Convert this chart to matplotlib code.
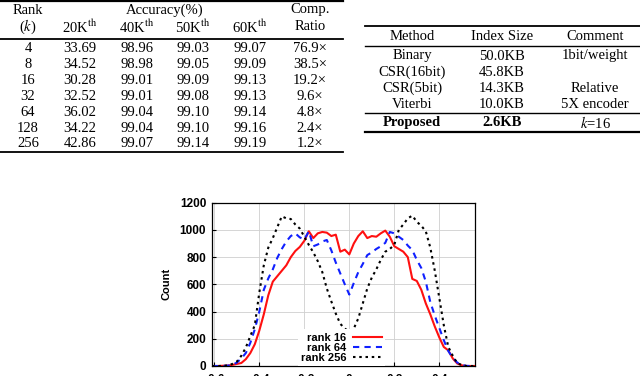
import matplotlib

matplotlib.use("Agg")
import matplotlib.pyplot as plt
from matplotlib.lines import Line2D

W, H = 640, 376

# ---- table 1: accuracy vs rank
ranks = ["4", "8", "16", "32", "64", "128", "256"]
acc_20k = [33.69, 34.52, 30.28, 32.52, 36.02, 34.22, 42.86]
acc_40k = [98.96, 98.98, 99.01, 99.01, 99.04, 99.04, 99.07]
acc_50k = [99.03, 99.05, 99.09, 99.08, 99.10, 99.10, 99.14]
acc_60k = [99.07, 99.09, 99.13, 99.13, 99.14, 99.16, 99.19]
comp_ratio = [76.9, 38.5, 19.2, 9.6, 4.8, 2.4, 1.2]

# ---- table 2: index size
methods = ["Binary", "CSR(16bit)", "CSR(5bit)", "Viterbi", "Proposed"]
index_size = ["50.0KB", "45.8KB", "14.3KB", "10.0KB", "2.6KB"]
comments = ["1bit/weight", "", "Relative", "5X encoder", "$k$=16"]

# ---- histogram of values
bins = [-0.61, -0.60, -0.58, -0.56, -0.54, -0.52, -0.50, -0.48, -0.46, -0.44,
        -0.42, -0.40, -0.38, -0.36, -0.34, -0.32, -0.30, -0.28, -0.26, -0.24,
        -0.22, -0.20, -0.18, -0.16, -0.14, -0.12, -0.10, -0.08, -0.06, -0.04,
        -0.02, 0.00, 0.02, 0.04, 0.06, 0.08, 0.10, 0.12, 0.14, 0.16,
        0.18, 0.20, 0.22, 0.24, 0.26, 0.28, 0.30, 0.32, 0.34, 0.36,
        0.38, 0.40, 0.42, 0.44, 0.46, 0.48, 0.50, 0.52, 0.54, 0.555]
count_r16 = [0, 0, 0, 2, 3, 8, 15, 22, 50, 95,
             160, 260, 380, 520, 620, 660, 700, 740, 800, 845,
             875, 920, 990, 940, 975, 985, 980, 955, 965, 840,
             855, 820, 900, 955, 990, 940, 955, 950, 975, 995,
             950, 880, 860, 840, 800, 640, 625, 560, 460, 380,
             290, 210, 140, 115, 55, 18, 5, 0, 0, 0]
count_r64 = [0, 0, 0, 0, 3, 8, 25, 55, 95, 170,
             270, 400, 560, 644, 710, 795, 860, 915, 955, 975,
             945, 930, 990, 880, 893, 915, 926, 850, 760, 680,
             600, 525, 610, 690, 750, 815, 835, 860, 880, 905,
             985, 975, 950, 926, 885, 852, 780, 720, 620, 470,
             370, 280, 190, 110, 60, 25, 8, 1, 0, 0]
count_r256 = [0, 0, 0, 2, 4, 15, 32, 75, 135, 220,
              300, 540, 740, 870, 940, 1020, 1100, 1085, 1080, 1040,
              1010, 950, 890, 835, 770, 690, 570, 475, 385, 310,
              275, 252, 275, 350, 460, 570, 650, 710, 780, 840,
              860, 890, 1000, 1040, 1085, 1105, 1060, 1030, 990, 870,
              700, 500, 300, 140, 75, 20, 8, 0, 0, 0]
x_ticks = [-0.6, -0.4, -0.2, 0.0, 0.2, 0.4]
x_ticklabels = ["-0.6", "-0.4", "-0.2", "0", "0.2", "0.4"]
y_ticks = [0, 200, 400, 600, 800, 1000, 1200]

plt.rcParams["mathtext.fontset"] = "stix"

fig = plt.figure(figsize=(W / 100, H / 100), dpi=100)

SERIF = "Liberation Serif"
FS = 10.5


def put(x, y, s, ha="center", **kw):
    fig.text(x / W, 1 - y / H, s, ha=ha, va="center", family=SERIF, fontsize=FS, **kw)


def rule(x0, x1, y, lw=1.0):
    fig.add_artist(Line2D([x0 / W, x1 / W], [1 - y / H] * 2, color="black", lw=lw))


# left table
cols = [28, 80, 137, 193, 250, 310]
rule(0, 343, 1, lw=1.6)
put(cols[0], 10, "Rank")
put((cols[1] + cols[4]) / 2, 10, "Accuracy(%)")
put(cols[5], 10, "Comp.")
put(cols[0], 27, "($k$)")
for c, lab in zip(cols[1:5], ["20K", "40K", "50K", "60K"]):
    put(c, 27, lab + r"$^{\rm th}$")
put(cols[5], 27, "Ratio")
rule(0, 343, 38.5, lw=1.3)
row_y0, row_dy = 49, 15.8
for i, r in enumerate(ranks):
    y = row_y0 + i * row_dy
    put(cols[0], y, r)
    put(cols[1], y, f"{acc_20k[i]:.2f}")
    put(cols[2], y, f"{acc_40k[i]:.2f}")
    put(cols[3], y, f"{acc_50k[i]:.2f}")
    put(cols[4], y, f"{acc_60k[i]:.2f}")
    put(cols[5], y, f"{comp_ratio[i]:.1f}\u00d7")
rule(0, 343, row_y0 + 6.5 * row_dy, lw=1.3)

# right table
rcols = [412, 502, 595]
rule(365, 640, 26, lw=1.3)
put(rcols[0], 36, "Method")
put(rcols[1], 36, "Index Size")
put(rcols[2], 36, "Comment")
rule(365, 640, 45.5, lw=1.0)
ry = [56, 72, 88, 104, 122.5]
for i, m in enumerate(methods):
    bold = "bold" if m == "Proposed" else "normal"
    put(rcols[0], ry[i], m, weight=bold)
    put(rcols[1], ry[i], index_size[i], weight=bold)
    put(rcols[2], ry[i], comments[i])
rule(365, 640, 113, lw=1.0)
rule(365, 640, 132, lw=1.6)

# histogram plot
ax = fig.add_axes([211.7 / W, 1 - 366 / H, (475 - 211.7) / W, (366 - 202.7) / H])
ax.plot(bins, count_r16, color="#ff1010", lw=1.5, label="rank 16")
ax.plot(bins, count_r64, color="#1020ff", lw=1.5, dashes=(3, 2.5), label="rank 64")
ax.plot(bins, count_r256, color="black", lw=1.5, dashes=(1.2, 1.8), label="rank 256")
ax.set_xlim(-0.6116, 0.5587)
ax.set_ylim(0, 1200)
ax.set_xticks(x_ticks)
ax.set_xticklabels(x_ticklabels)
ax.set_yticks(y_ticks)
ax.grid(color="#cfcfcf", lw=0.6)
ax.tick_params(direction="in", length=3, labelsize=8.5, pad=4, width=0.8)
ax.tick_params(axis="x", pad=6)
for lab in ax.get_xticklabels() + ax.get_yticklabels():
    lab.set_fontweight("bold")
    lab.set_family("Liberation Sans")
for s in ax.spines.values():
    s.set_linewidth(0.9)
ax.set_ylabel("Count", fontsize=8, fontweight="bold", family="Liberation Sans", labelpad=6)

leg = ax.legend(loc="lower right", bbox_to_anchor=(0.66, 0.0), markerfirst=False,
                frameon=True, fancybox=False, edgecolor="none", framealpha=1,
                borderaxespad=0, borderpad=0.3, labelspacing=0.0, handlelength=2.6,
                handletextpad=0.6, prop={"family": "Liberation Sans", "weight": "bold", "size": 8})

fig.savefig("out.png", dpi=100)
